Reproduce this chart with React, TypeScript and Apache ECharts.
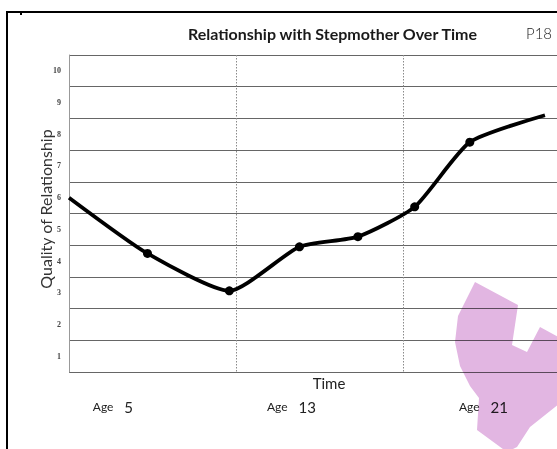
import React, { useEffect, useRef } from "react";
import * as echarts from "echarts";

// ---- data ----
const titleText = "Relationship with Stepmother Over Time";
const pageTag = "P18";
const yAxisTitle = "Quality of Relationship";
const xAxisTitle = "Time";
const yTickLabels = [1, 2, 3, 4, 5, 6, 7, 8, 9, 10];
const ageWord = "Age";
const ageLabels = ["5", "13", "21"];
// where each age label sits along the time axis (time units, one per period)
const ageLabelPositions = [0.263, 1.332, 2.482];
const timeValues = [0, 0.47, 0.96, 1.38, 1.73, 2.07, 2.4, 2.85];
const qualityValues = [6.0, 4.24, 3.06, 4.45, 4.77, 5.71, 7.75, 8.6];
const markedPoints = [false, true, true, true, true, true, true, false];

// ---- decoration (layout only): highlighter mark over the plot ----
const pinkMark = [
  [475, 282], [518, 305], [512, 345], [527, 352], [540, 327], [560, 338],
  [560, 403], [530, 427], [517, 447], [507, 452], [477, 430], [479, 398],
  [470, 386], [460, 366], [455, 342], [458, 316],
];

export default function App() {
  const ref = useRef<HTMLDivElement>(null);

  useEffect(() => {
    if (!ref.current) return;
    const chart = echarts.init(ref.current, undefined, { renderer: "svg" });
    const option: any = {
      animation: false,
      backgroundColor: "transparent",
      title: {
        text: titleText,
        left: 183,
        top: 20,
        textStyle: { fontFamily: "Lato", fontWeight: "bold", fontSize: 16, color: "#1a1a1a" },
      },
      grid: { left: 69, right: 30, top: 55, bottom: 77 },
      xAxis: {
        type: "value",
        min: 0,
        max: 3,
        interval: 1,
        name: xAxisTitle,
        nameLocation: "middle",
        nameGap: 3,
        nameMoveOverlap: false,
        nameTextStyle: { fontFamily: "Lato", fontSize: 15, color: "#222", padding: [0, 0, 0, 19] },
        axisLine: { show: false },
        axisTick: { show: false },
        splitLine: {
          show: true,
          showMinLine: false,
          showMaxLine: false,
          lineStyle: { color: "#8a8a8a", type: [1.5, 1.5], width: 1 },
        },
        axisLabel: {
          customValues: ageLabelPositions,
          margin: 27,
          formatter: (v: number, i: number) => {
            let k = ageLabelPositions.indexOf(v);
            if (k < 0) k = i;
            return `{a|${ageWord}}{n|${ageLabels[k] ?? ""}}`;
          },
          rich: {
            a: { fontFamily: "Lato", fontSize: 12, color: "#222" },
            n: { fontFamily: "Lato", fontSize: 15, color: "#222", padding: [0, 0, 0, 11] },
          },
        },
      },
      yAxis: {
        type: "value",
        min: 0.5,
        max: 10.5,
        interval: 1,
        name: yAxisTitle,
        nameLocation: "middle",
        nameGap: 16,
        nameRotate: 90,
        nameMoveOverlap: false,
        nameTextStyle: { fontFamily: "Lato", fontSize: 16, color: "#333", padding: [0, 0, 0, 9] },
        axisLine: { show: true, lineStyle: { color: "#999", width: 1 } },
        axisTick: { show: false },
        splitLine: { show: true, lineStyle: { color: "#666", width: 1 } },
        axisLabel: {
          customValues: yTickLabels,
          margin: 8,
          fontFamily: "Liberation Serif",
          fontWeight: "bold",
          fontSize: 8,
          color: "#444",
        },
      },
      series: [
        {
          type: "line",
          data: timeValues.map((t, i) => ({
            value: [t, qualityValues[i]],
            symbol: markedPoints[i] ? "circle" : "none",
          })),
          smooth: 0.2,
          symbolSize: 9,
          lineStyle: { color: "#000", width: 3.8 },
          itemStyle: { color: "#000" },
          z: 5,
        },
      ],
      graphic: [
        {
          type: "text",
          style: {
            text: pageTag,
            x: 526,
            y: 33,
            fontFamily: "Lato",
            fontWeight: 300,
            fontSize: 15,
            fill: "#222",
            verticalAlign: "middle",
          },
        },
        {
          type: "rect",
          shape: { x: 20, y: 13, width: 2, height: 2 },
          style: { fill: "#000" },
        },
      ],
    };
    chart.setOption(option);
    return () => chart.dispose();
  }, []);

  return (
    <div
      style={{
        position: "absolute",
        left: 0,
        top: 0,
        width: 557,
        height: 449,
        overflow: "hidden",
        background: "#fff",
        isolation: "isolate",
      }}
    >
      <div ref={ref} style={{ position: "absolute", left: 0, top: 0, width: 600, height: 449 }} />
      <svg
        width={600}
        height={460}
        style={{
          position: "absolute",
          left: 0,
          top: 0,
          mixBlendMode: "multiply",
          pointerEvents: "none",
          zIndex: 2,
        }}
      >
        <polygon points={pinkMark.map((p) => p.join(",")).join(" ")} fill="#e2b6e2" />
      </svg>
      <div
        style={{
          position: "absolute",
          left: 6,
          top: 11,
          width: 600,
          height: 500,
          borderLeft: "2px solid #000",
          borderTop: "2px solid #000",
          pointerEvents: "none",
          zIndex: 3,
        }}
      />
    </div>
  );
}
